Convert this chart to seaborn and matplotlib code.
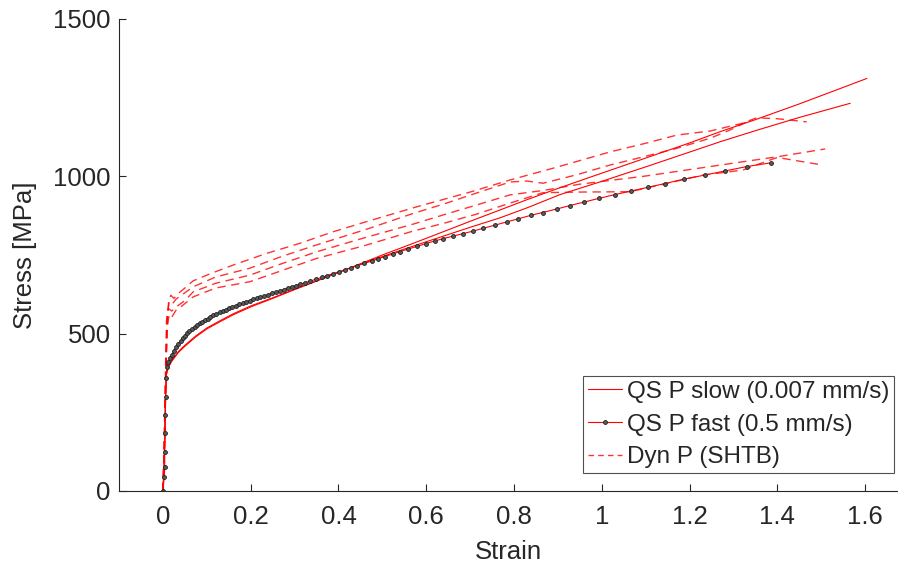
import numpy as np
import pandas as pd
import seaborn as sns
import matplotlib
matplotlib.use("Agg")
import matplotlib.pyplot as plt
from matplotlib.lines import Line2D

# ---- quasi-static, slow rate (two repeats) ----
slow1_strain = [0.0, 0.003, 0.005, 0.006, 0.008, 0.012, 0.02, 0.035, 0.05, 0.075, 0.1, 0.13, 0.16, 0.2,
                0.25, 0.3, 0.35, 0.4, 0.45, 0.5, 0.54, 0.6, 0.65, 0.7, 0.768, 0.83, 0.905, 1.0, 1.1,
                1.2, 1.27, 1.35, 1.45, 1.53, 1.604]
slow1_stress = [0, 100, 230, 300, 370, 392, 412, 440, 460, 490, 515, 538, 560, 585,
                612, 640, 667, 694, 722, 750, 771, 803, 830, 857, 893, 926, 964, 1010, 1058,
                1106, 1142, 1180, 1230, 1272, 1311]

slow2_strain = [0.0, 0.003, 0.005, 0.006, 0.008, 0.012, 0.02, 0.035, 0.05, 0.075, 0.1, 0.13, 0.16, 0.2,
                0.25, 0.3, 0.35, 0.4, 0.45, 0.5, 0.54, 0.6, 0.65, 0.7, 0.768, 0.83, 0.905, 1.0, 1.1,
                1.2, 1.27, 1.35, 1.45, 1.566]
slow2_stress = [0, 100, 230, 300, 372, 395, 415, 443, 463, 493, 518, 541, 563, 588,
                614, 641, 668, 695, 721, 745, 764, 792, 815, 838, 868, 900, 942, 984, 1030,
                1077, 1110, 1145, 1187, 1232]

# ---- quasi-static, fast rate ----
fast_strain = [0.0, 0.003, 0.004, 0.004, 0.005, 0.005, 0.006, 0.007, 0.009, 0.012, 0.016, 0.02, 0.025,
               0.03, 0.035, 0.04, 0.045, 0.05, 0.055, 0.06, 0.066, 0.072, 0.078, 0.084, 0.09, 0.096,
               0.102, 0.108, 0.115, 0.122, 0.129, 0.136, 0.143, 0.15, 0.158, 0.166, 0.174, 0.182,
               0.19, 0.198, 0.206, 0.214, 0.222, 0.231, 0.24, 0.249, 0.258, 0.267, 0.276, 0.285,
               0.294, 0.303, 0.312, 0.324, 0.335, 0.349, 0.362, 0.373, 0.388, 0.402, 0.415, 0.428,
               0.443, 0.458, 0.476, 0.491, 0.506, 0.525, 0.540, 0.559, 0.578, 0.599, 0.620, 0.639,
               0.661, 0.684, 0.707, 0.730, 0.757, 0.783, 0.810, 0.838, 0.865, 0.897, 0.927, 0.959,
               0.994, 1.030, 1.066, 1.105, 1.144, 1.187, 1.235, 1.281, 1.330, 1.386]
fast_stress = [0, 45, 75, 125, 185, 240, 300, 360, 395, 410, 422, 432, 445,
               457, 467, 477, 486, 494, 501, 507, 514, 521, 527, 533, 538, 543,
               548, 553, 558, 563, 568, 572, 576, 580, 585, 589, 593, 597,
               601, 605, 609, 612, 616, 620, 624, 628, 632, 636, 640, 645,
               649, 653, 657, 662, 667, 673, 679, 684, 691, 697, 703, 709,
               716, 723, 731, 738, 745, 754, 761, 769, 777, 786, 795, 802,
               810, 818, 826, 835, 845, 855, 865, 876, 885, 896, 907, 918,
               930, 942, 953, 965, 977, 991, 1004, 1017, 1031, 1043]

# ---- dynamic tests (split Hopkinson tension bar) ----
dyn1_strain = [0.0, 0.003, 0.006, 0.009, 0.013, 0.018, 0.025, 0.035, 0.05, 0.069, 0.107, 0.16, 0.236,
               0.312, 0.388, 0.464, 0.578, 0.7, 0.79, 0.9, 1.02, 1.1, 1.171, 1.247, 1.322, 1.353,
               1.4, 1.467]
dyn1_stress = [0, 150, 350, 520, 605, 622, 612, 628, 645, 668, 690, 718, 755,
               787, 824, 856, 903, 950, 988, 1030, 1078, 1105, 1131, 1144, 1169, 1186,
               1183, 1173]

dyn2_strain = [0.0, 0.004, 0.007, 0.01, 0.014, 0.02, 0.03, 0.045, 0.069, 0.12, 0.198, 0.27, 0.35,
               0.46, 0.57, 0.64, 0.715, 0.791, 0.83, 0.866, 0.943, 1.019, 1.095, 1.171, 1.247,
               1.292, 1.34]
dyn2_stress = [0, 200, 420, 560, 600, 592, 610, 625, 649, 680, 708, 745, 782,
               830, 882, 912, 947, 982, 985, 978, 1005, 1036, 1062, 1089, 1121,
               1147, 1180]

dyn3_strain = [0.0, 0.003, 0.006, 0.008, 0.012, 0.02, 0.035, 0.05, 0.069, 0.12, 0.198, 0.27, 0.35,
               0.46, 0.57, 0.638, 0.715, 0.791, 0.866, 0.95, 1.095, 1.247, 1.33, 1.40, 1.509]
dyn3_stress = [0, 180, 400, 540, 580, 572, 590, 605, 633, 660, 686, 722, 760,
               805, 848, 877, 909, 941, 955, 975, 1000, 1031, 1048, 1062, 1087]

dyn4_strain = [0.0, 0.004, 0.007, 0.01, 0.014, 0.02, 0.03, 0.045, 0.069, 0.12, 0.198, 0.27, 0.35,
               0.46, 0.57, 0.638, 0.715, 0.791, 0.866, 0.95, 1.064, 1.15, 1.231, 1.322, 1.36,
               1.40, 1.502]
dyn4_stress = [0, 150, 380, 520, 560, 552, 575, 590, 617, 645, 665, 700, 739,
               780, 826, 850, 880, 915, 948, 950, 951, 978, 1004, 1020, 1040,
               1060, 1036]

x_ticks = [0, 0.2, 0.4, 0.6, 0.8, 1, 1.2, 1.4, 1.6]
x_tick_labels = ["0", "0.2", "0.4", "0.6", "0.8", "1", "1.2", "1.4", "1.6"]
y_ticks = [0, 500, 1000, 1500]
legend_labels = ["QS P slow (0.007 mm/s)", "QS P fast (0.5 mm/s)", "Dyn P (SHTB)"]

sns.set_style("ticks", {"xtick.direction": "in", "ytick.direction": "in"})
plt.rcParams["font.family"] = ["Liberation Sans", "DejaVu Sans"]
TXT = "#262626"

fig = plt.figure(figsize=(8.98, 5.75), dpi=100)
ax = fig.add_axes([0.1326, 0.1461, 0.8674, 0.8209])

RED = "#ff0000"
dash = (0, (6, 4))

for xs, ys in [(dyn1_strain, dyn1_stress), (dyn2_strain, dyn2_stress),
               (dyn3_strain, dyn3_stress), (dyn4_strain, dyn4_stress)]:
    df = pd.DataFrame({"strain": xs, "stress": ys})
    sns.lineplot(data=df, x="strain", y="stress", sort=False, estimator=None,
                 color=RED, lw=1.0, linestyle=dash, alpha=0.8, ax=ax)

for xs, ys in [(slow1_strain, slow1_stress), (slow2_strain, slow2_stress)]:
    df = pd.DataFrame({"strain": xs, "stress": ys})
    sns.lineplot(data=df, x="strain", y="stress", sort=False, estimator=None,
                 color=RED, lw=0.8, ax=ax)

df_fast = pd.DataFrame({"strain": fast_strain, "stress": fast_stress})
sns.lineplot(data=df_fast, x="strain", y="stress", sort=False, estimator=None,
             color=RED, lw=0.8, marker="o", markersize=2.8, markerfacecolor="#5a5a5a",
             markeredgecolor="#1e1e1e", markeredgewidth=0.6, ax=ax)

ax.set_xlim(-0.1, 1.675)
ax.set_ylim(0, 1500)
ax.set_xticks(x_ticks)
ax.set_xticklabels(x_tick_labels)
ax.set_yticks(y_ticks)
ax.set_xlabel("Strain", fontsize=18.5, color=TXT, labelpad=8)
ax.set_ylabel("Stress [MPa]", fontsize=18.5, color=TXT, labelpad=12)
ax.tick_params(axis="x", pad=10)
ax.tick_params(axis="y", pad=6)
ax.tick_params(axis="both", labelsize=18.5, colors=TXT, length=5, width=0.8)
for side in ("top", "right"):
    ax.spines[side].set_visible(False)
for side in ("left", "bottom"):
    ax.spines[side].set_color(TXT)
    ax.spines[side].set_linewidth(0.8)

handles = [
    Line2D([], [], color=RED, lw=0.8),
    Line2D([], [], color=RED, lw=0.8, marker="o", markersize=2.8,
           markerfacecolor="#5a5a5a", markeredgecolor="#1e1e1e", markeredgewidth=0.6),
    Line2D([], [], color=RED, lw=1.0, linestyle=(0, (4, 3)), alpha=0.8),
]
leg = ax.legend(handles, legend_labels, loc="upper left", bbox_to_anchor=(0.5956, 0.2436),
                borderaxespad=0, fontsize=17.5, frameon=True, fancybox=False,
                handlelength=1.42, handletextpad=0.2, borderpad=0.2, labelspacing=0.44)
leg.get_frame().set_edgecolor(TXT)
leg.get_frame().set_linewidth(0.8)
for t in leg.get_texts():
    t.set_color(TXT)

fig.savefig("out.png", dpi=100)
